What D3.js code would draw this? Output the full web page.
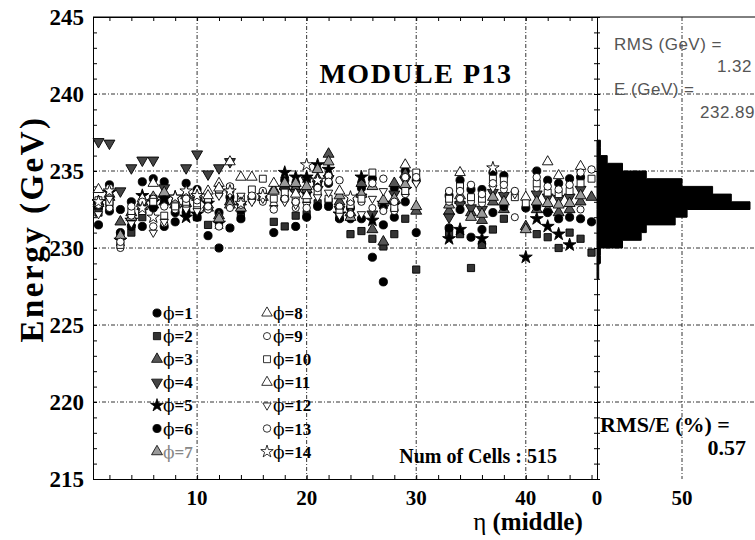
<!DOCTYPE html>
<html>
<head>
<meta charset="utf-8">
<script src="https://cdn.jsdelivr.net/npm/d3@7"></script>
<style>
  body { margin: 0; background: #fff; }
  svg { display: block; }
</style>
</head>
<body>
<div id="chart"></div>
<script>
// eta (middle) bins 1..46, one value per bin for each phi row (null = no cell)
const etaBins = d3.range(1, 47)

const phi1 = [232.6, 234.1, 232.5, 233.0, 234.3, 234.5, 234.3, 232.3, 234.2, 233.8,
  233.0, 232.3, 233.3, 232.4, 233.3, 233.5, null, 234.4, 234.0, 233.6,
  234.2, 234.2, 232.6, 232.6, 233.9, 234.5, 231.5, 233.9, 235.0, 234.4,
  null, null, 233.4, 234.4, 233.8, 233.8, 234.9, 234.7, null, 232.6,
  235.0, 234.4, 234.2, 234.5, 234.6, null]
const phi2 = [232.3, 232.8, 230.8, 231.0, 232.0, 233.2, 233.1, 232.6, 232.4, 232.0,
  231.5, 231.7, 232.9, 232.0, null, null, 231.7, 231.4, 232.1, 232.2,
  232.9, 233.0, 232.0, 230.9, 231.1, 230.6, 230.1, 230.9, 231.9, 228.6,
  null, null, 231.0, 230.9, 228.7, 230.2, 231.2, 231.9, null, null,
  230.9, 230.7, 230.0, 231.0, 230.6, 229.7]
const phi3 = [233.0, 233.3, 231.7, 232.3, 233.0, 232.8, 233.0, 232.8, 232.9, 233.3,
  232.6, 232.1, 233.0, 233.0, null, null, 233.8, 234.0, 233.9, 233.8,
  234.5, 236.1, 233.0, 232.3, 234.2, 231.2, 230.4, 234.2, 234.8, 232.4,
  null, null, 232.4, 233.1, 232.3, 231.8, 233.0, 232.5, null, 231.4,
  232.5, 232.5, 232.3, 232.5, 233.0, 233.3]
const phi4 = [236.9, 236.8, 233.7, 235.2, 235.7, 235.7, 233.9, null, 235.2, 236.1,
  234.8, 235.2, 235.6, null, null, null, null, 233.7, 233.6, 234.4,
  233.8, 234.5, 232.5, null, 233.3, 232.2, 232.6, 233.5, 234.4, null,
  null, null, 232.0, 232.8, 232.6, 232.5, 233.6, 233.4, null, null,
  233.5, 233.3, 233.2, 233.3, 233.8, null]
const phi5 = [233.0, 233.6, 230.5, 231.8, 233.4, 233.0, 233.2, 233.3, 232.0, 232.2,
  232.9, 231.6, null, null, null, null, null, 234.9, 234.6, 234.6,
  235.4, 235.1, 232.2, null, 234.6, 231.8, 232.9, 232.8, 233.8, null,
  null, null, 230.6, 231.2, null, 230.6, null, null, null, 229.4,
  231.9, 231.4, 230.9, 230.2, null, null]
const phi6 = [231.5, 232.4, 231.0, 231.4, 231.4, 232.6, 231.4, 231.7, 232.3, 232.0,
  230.8, 230.0, 231.3, 231.9, null, null, 231.0, 233.2, 231.4, 232.0,
  232.7, 232.7, 231.9, 231.9, 231.9, 229.4, 227.8, 232.0, 233.0, 231.0,
  null, null, 231.3, 232.5, 230.7, 231.2, 232.3, 232.7, null, null,
  232.7, 232.3, 231.9, 232.0, 231.9, 231.7]
const phi7 = [232.9, 233.5, 230.8, 232.0, 232.7, 233.3, 233.6, 233.0, 233.4, 233.5,
  232.8, 231.9, 232.8, 232.6, null, 233.3, 233.7, 234.2, 234.2, 234.0,
  235.1, 235.6, 233.4, 232.0, 233.5, 234.0, 233.1, 233.2, 234.1, 232.7,
  null, null, 232.8, 233.4, 232.0, 232.2, 233.3, 233.0, null, 231.2,
  233.0, 232.9, 232.8, 232.9, 233.4, null]
const phi8 = [233.8, null, null, null, null, 234.2, null, null, null, null,
  233.7, 234.2, null, 234.6, 234.6, null, 234.2, null, null, null,
  null, null, null, null, null, null, null, null, 235.4, null,
  null, null, null, 234.9, null, null, null, null, null, 233.3,
  null, 235.6, null, null, 235.3, null]
const phi9 = [232.8, 232.6, 230.0, 232.1, 232.5, 233.2, 231.6, 232.5, 232.8, 232.6,
  232.5, 233.5, 232.6, 232.8, 233.1, 233.0, 232.8, 233.4, 232.6, 233.0,
  233.5, 234.7, 232.7, 232.2, 233.0, 232.6, 232.4, 232.4, 233.5, null,
  null, null, 233.0, 233.2, 233.0, 232.9, null, 233.8, 232.0, null,
  233.9, null, null, null, 232.5, null]
const phi10 = [233.1, 233.0, 230.2, 232.4, 232.4, 233.0, 232.1, 232.7, 233.0, 232.9,
  233.2, 233.8, 233.9, 233.2, 233.8, 234.5, 233.2, 233.6, 233.2, 233.2,
  233.6, 233.2, 232.3, 232.8, 233.2, 234.9, null, 232.6, 233.7, 234.9,
  null, null, 233.2, 234.0, 233.3, 233.2, 234.5, 234.4, 233.3, 232.9,
  234.2, 233.6, 233.5, 233.7, 234.2, 234.5]
const phi11 = [null, null, null, null, 233.2, null, null, null, 233.5, 233.7,
  233.4, 233.9, 235.6, null, null, null, null, null, 233.5, 233.4,
  null, null, 233.7, null, null, null, null, null, null, null,
  null, null, null, null, null, null, null, null, null, null,
  null, null, 234.7, null, null, null]
const phi12 = [232.2, 233.2, null, 231.6, 232.8, 231.0, 231.7, null, 232.5, 232.4,
  null, 233.4, 233.5, 233.4, 233.0, 233.2, 232.6, 233.0, 232.8, 232.8,
  233.3, 233.6, 232.1, null, 232.2, 233.2, 233.7, null, null, 234.2,
  null, null, null, null, null, null, 233.9, null, 233.5, null,
  null, null, null, null, null, null]
const phi13 = [null, 233.9, 230.4, 232.7, 233.0, 231.4, 232.7, null, 233.2, 233.1,
  232.7, 231.4, 234.0, 233.0, 233.4, 233.7, 232.5, 233.2, 233.0, 232.6,
  233.9, 234.3, 234.4, 233.0, null, 234.2, 234.5, 233.0, 234.6, 234.6,
  null, null, 233.7, 233.7, 234.1, 233.5, 234.2, 234.1, 233.7, null,
  234.6, 234.0, 233.8, 234.1, 234.9, 235.1]
const phi14 = [233.0, 233.7, null, null, 232.6, 232.0, null, 233.3, 233.7, 233.4,
  null, null, 233.7, 232.9, null, 233.4, null, null, null, 235.4,
  234.4, null, null, 233.3, null, null, null, null, null, null,
  null, null, null, null, null, null, 235.2, null, null, null,
  null, null, null, null, null, null]

const phiSeries = [phi1, phi2, phi3, phi4, phi5, phi6, phi7,
  phi8, phi9, phi10, phi11, phi12, phi13, phi14]

// projection histogram, 0.5 GeV bins
const histLow = [228.0, 228.5, 229.0, 229.5, 230.0, 230.5, 231.0, 231.5, 232.0,
  232.5, 233.0, 233.5, 234.0, 234.5, 235.0, 235.5, 236.0, 236.5]
const histCount = [1, 1, 2, 2, 15, 26, 29, 46, 53, 90, 79, 68, 50, 29, 15, 6, 2, 2]
const binWidth = 0.5

const yTicks = [215, 220, 225, 230, 235, 240, 245]
const xTicks = [10, 20, 30, 40]
const hTicks = [0, 50]

// marker per phi row
const markers = [
  { type: d3.symbolCircle, fill: '#000', rot: 0, size: 52 },
  { type: d3.symbolSquare, fill: '#333', rot: 0, size: 52 },
  { type: d3.symbolTriangle, fill: '#555', rot: 0, size: 52 },
  { type: d3.symbolTriangle, fill: '#444', rot: 180, size: 52 },
  { type: d3.symbolStar, fill: '#000', rot: 0, size: 52 },
  { type: d3.symbolCircle, fill: '#000', rot: 0, size: 52 },
  { type: d3.symbolTriangle, fill: '#999', rot: 0, size: 52 },
  { type: d3.symbolTriangle, fill: '#fff', rot: 0, size: 48 },
  { type: d3.symbolCircle, fill: '#fff', rot: 0, size: 40 },
  { type: d3.symbolSquare, fill: '#fff', rot: 0, size: 48 },
  { type: d3.symbolTriangle, fill: '#fff', rot: 0, size: 48 },
  { type: d3.symbolTriangle, fill: '#fff', rot: 180, size: 30 },
  { type: d3.symbolCircle, fill: '#fff', rot: 0, size: 44 },
  { type: d3.symbolStar, fill: '#fff', rot: 0, size: 48 }
]

const W = 755
const H = 540
const mLeft = 93
const mRight = 597
const mTop = 17
const mBottom = 479
const serif = "'Liberation Serif', 'Times New Roman', serif"

const x = d3.scaleLinear().domain([0.5, 46.5]).range([mLeft, mRight])
const y = d3.scaleLinear().domain([215, 245]).range([mBottom, mTop])
const xh = d3.scaleLinear().domain([0, 50]).range([mRight, 682])

const svg = d3.select('#chart')
  .append('svg')
  .attr('width', W)
  .attr('height', H)
  .style('background-color', '#fff')

/** grid lines */
const grid = svg.append('g')
  .attr('stroke', '#000')
  .attr('stroke-width', 0.8)
  .attr('stroke-dasharray', '4,2,1,2')

grid.selectAll('line.h').data(yTicks.slice(1, -1)).enter()
  .append('line').classed('h', true)
  .attr('x1', mLeft).attr('x2', W)
  .attr('y1', d => y(d)).attr('y2', d => y(d))

grid.selectAll('line.v').data(xTicks).enter()
  .append('line').classed('v', true)
  .attr('x1', d => x(d)).attr('x2', d => x(d))
  .attr('y1', mTop).attr('y2', mBottom)

grid.append('line')
  .attr('x1', xh(50)).attr('x2', xh(50))
  .attr('y1', mTop).attr('y2', mBottom)

/** histogram: one stepped outline, filled */
const histPts = histLow.flatMap((lo, i) => [
  { e: lo, c: histCount[i] },
  { e: lo + binWidth, c: histCount[i] }
])
const histArea = d3.area()
  .y(d => y(d.e))
  .x0(xh(0))
  .x1(d => xh(d.c))

svg.append('path')
  .datum(histPts)
  .attr('d', histArea)
  .attr('fill', '#000')
  .attr('stroke', '#000')
  .attr('stroke-width', 1)
  .attr('stroke-linejoin', 'miter')

/** axes (ticks only) */
const minorY = d3.range(215, 246)
const minorX = d3.range(2, 47, 2)
const axisStyle = g => g.attr('color', '#000').attr('stroke-width', 1)

svg.append('g').attr('transform', `translate(${mLeft},0)`)
  .call(d3.axisLeft(y).tickValues(minorY).tickSize(-4).tickSizeOuter(0).tickFormat(''))
  .call(axisStyle)
svg.append('g').attr('transform', `translate(0,${mBottom})`)
  .call(d3.axisBottom(x).tickValues(minorX).tickSize(-4).tickSizeOuter(0).tickFormat(''))
  .call(axisStyle)
svg.append('g').attr('transform', `translate(0,${mTop})`)
  .call(d3.axisTop(x).tickValues(minorX).tickSize(-4).tickSizeOuter(0).tickFormat(''))
  .call(axisStyle)
svg.append('g').attr('transform', `translate(${mRight},0)`)
  .call(d3.axisLeft(y).tickValues(minorY).tickSize(3).tickSizeOuter(0).tickFormat(''))
  .call(axisStyle)
svg.append('g').attr('transform', `translate(${mRight},0)`)
  .call(d3.axisRight(y).tickValues(minorY).tickSize(3).tickSizeOuter(0).tickFormat(''))
  .call(axisStyle)
svg.append('line')
  .attr('x1', mLeft).attr('x2', W).attr('y1', mTop).attr('y2', mTop)
  .attr('stroke', '#000')

/** tick labels */
svg.append('g').selectAll('text').data(yTicks).enter()
  .append('text')
  .attr('x', 84)
  .attr('y', d => y(d))
  .attr('dy', '0.35em')
  .attr('text-anchor', 'end')
  .style('font', `bold 23px ${serif}`)
  .text(d => d)

svg.append('g').selectAll('text').data(xTicks).enter()
  .append('text')
  .attr('x', d => x(d))
  .attr('y', 505)
  .attr('text-anchor', 'middle')
  .style('font', `bold 21px ${serif}`)
  .text(d => d)

svg.append('g').selectAll('text').data(hTicks).enter()
  .append('text')
  .attr('x', d => xh(d))
  .attr('y', 505)
  .attr('text-anchor', 'middle')
  .style('font', `bold 21px ${serif}`)
  .text(d => d)

/** axis titles */
svg.append('text')
  .attr('transform', 'translate(43, 229) rotate(-90)')
  .attr('text-anchor', 'middle')
  .style('font', `bold 33px ${serif}`)
  .style('letter-spacing', '2.5px')
  .text('Energy (GeV)')

const xt = svg.append('text')
  .attr('x', 528)
  .attr('y', 530)
  .attr('text-anchor', 'middle')
  .style('font', `bold 25px ${serif}`)
xt.append('tspan').style('font-weight', 'normal').text('η ')
xt.append('tspan').text('(middle)')

/** scatter points */
const symbolGen = d3.symbol()
phiSeries.forEach((series, i) => {
  const m = markers[i]
  const pts = etaBins.map((eta, j) => ({ eta, e: series[j] })).filter(d => d.e != null)
  svg.append('g').classed('phi' + (i + 1), true)
    .selectAll('path').data(pts).enter()
    .append('path')
    .attr('d', symbolGen.type(m.type).size(m.size)())
    .attr('transform', d => `translate(${x(d.eta)},${y(d.e)}) rotate(${m.rot})`)
    .attr('fill', m.fill)
    .attr('stroke', '#000')
    .attr('stroke-width', 0.9)
})

/** legend */
const legend = svg.append('g')
markers.forEach((m, i) => {
  const col = i < 7 ? 0 : 1
  const row = i % 7
  const lx = col === 0 ? 157 : 267
  const ly = 313 + row * 23.1
  const color = i === 6 ? '#888' : '#000'
  legend.append('path')
    .attr('d', d3.symbol().type(m.type).size(m.size)())
    .attr('transform', `translate(${lx},${ly}) rotate(${m.rot})`)
    .attr('fill', m.fill)
    .attr('stroke', '#000')
    .attr('stroke-width', 0.8)
  const t = legend.append('text')
    .attr('x', lx + 6)
    .attr('y', ly + 6)
    .style('font', `bold 17px ${serif}`)
    .style('fill', color)
  t.append('tspan')
    .style('font-family', "'DejaVu Serif', serif")
    .style('font-weight', 'normal')
    .style('fill', color)
    .text('ϕ')
  t.append('tspan').style('fill', color).text('=' + (i + 1))
})

/** annotations */
svg.append('text')
  .attr('x', 416)
  .attr('y', 83)
  .attr('text-anchor', 'middle')
  .style('font', `bold 28px ${serif}`)
  .style('letter-spacing', '1.5px')
  .text('MODULE P13')

svg.append('text')
  .attr('x', 557)
  .attr('y', 463)
  .attr('text-anchor', 'end')
  .style('font', `bold 20px ${serif}`)
  .text('Num of Cells : 515')

const sans = "'Liberation Sans', Arial, sans-serif"
const stats = [
  { t: 'RMS (GeV) =', x: 614, y: 50, a: 'start' },
  { t: '1.32', x: 752, y: 72, a: 'end' },
  { t: 'E (GeV) =', x: 614, y: 95, a: 'start' },
  { t: '232.89', x: 755, y: 118, a: 'end' }
]
svg.append('g').selectAll('text').data(stats).enter()
  .append('text')
  .attr('x', d => d.x)
  .attr('y', d => d.y)
  .attr('text-anchor', d => d.a)
  .style('font', `17px ${sans}`)
  .style('fill', '#555')
  .style('letter-spacing', '0.5px')
  .text(d => d.t)

svg.append('text')
  .attr('x', 600)
  .attr('y', 432)
  .style('font', `bold 22px ${serif}`)
  .text('RMS/E (%) =')
svg.append('text')
  .attr('x', 746)
  .attr('y', 455)
  .attr('text-anchor', 'end')
  .style('font', `bold 22px ${serif}`)
  .text('0.57')
</script>
</body>
</html>
